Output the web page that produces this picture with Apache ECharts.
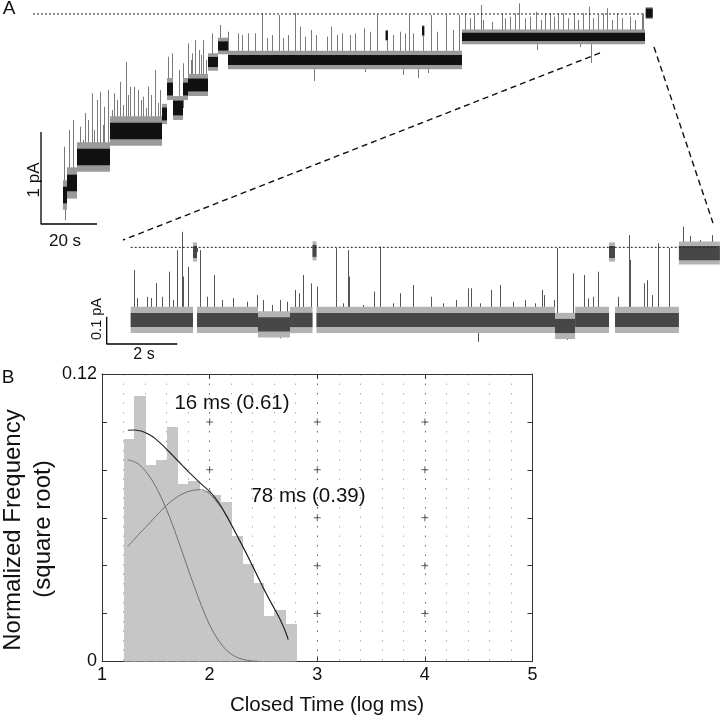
<!DOCTYPE html>
<html><head><meta charset="utf-8">
<script src="https://cdn.jsdelivr.net/npm/echarts@6/dist/echarts.min.js"></script>
<style>html,body{margin:0;padding:0;background:#fff}#c{width:720px;height:717px}</style>
</head><body><div id="c"></div>
<script>
// ================= DATA =================
// Panel A, long record: time (s), current (pA)
// segments: [tStart, tEnd, level, coreNoise, fringeNoise]  (half-widths, pA)
const topSegments = [
  [1.07, 2.5, 0.315, 0.09, 0.16],
  [2.5, 6.07, 0.446, 0.09, 0.17],
  [6.07, 17.86, 0.728, 0.09, 0.16],
  [17.86, 36.43, 1.011, 0.09, 0.16],
  [36.43, 38.21, 1.196, 0.07, 0.11],
  [38.21, 40.36, 1.467, 0.07, 0.12],
  [40.36, 43.93, 1.261, 0.08, 0.13],
  [43.93, 45.71, 1.467, 0.07, 0.12],
  [45.71, 52.86, 1.511, 0.07, 0.12],
  [52.86, 56.43, 1.761, 0.055, 0.095],
  [56.43, 60.0, 1.935, 0.05, 0.09],
  [60.0, 143.57, 1.783, 0.055, 0.10],
  [143.57, 208.93, 2.033, 0.045, 0.08],
  [209.18, 211.68, 2.293, 0.05, 0.065]
];
// brief sub-conductance visits
const topSublevels = [
  [116.3, 117.1, 2.05, 0.05, 0.06],
  [129.3, 130.1, 2.10, 0.05, 0.06]
];
// brief openings / closings: [time, peak current]
const topSpikes = [
  [1.54,0.840],[3.21,1.022],[4.75,1.130],[7.14,1.058],[8.04,0.913],[8.93,1.207],[10.11,1.130],[11.32,1.421],[12.14,1.022],[13.11,1.348],[14.29,1.438],[15.18,1.076],[15.82,1.275],[17.04,1.457],
  [18.57,1.239],[19.39,1.421],[20.36,1.348],[21.43,1.547],[22.5,1.293],[23.46,1.764],[24.29,1.402],[25.0,1.492],[26.54,1.492],[27.96,1.457],[28.93,1.348],[29.75,1.384],[30.71,1.261],[31.54,1.492],[32.5,1.402],[33.93,1.674],[35.0,1.315],[35.71,1.457],
  [38.68,1.818],[40.11,1.855],[42.5,1.674],[43.82,1.747],[45.61,1.964],[46.61,1.783],[47.04,1.855],[48.21,2.0],[49.64,1.891],[50.36,1.837],[51.18,2.0],[52.14,1.783],[54.18,2.073],[57.14,2.163],[60.11,2.090],
  [63.46,2.073],[64.89,2.054],[67.25,2.073],[69.64,2.073],[72.32,2.293],[73.82,2.022],[75.61,2.054],[78.21,2.272],[79.75,2.022],[81.54,2.054],[83.93,2.293],[85.71,2.145],[87.5,2.036],[89.54,2.109],[91.43,2.054],[95.25,2.036],[96.68,2.145],[98.82,2.054],[100.61,2.073],[103.57,2.054],[105.36,2.073],[108.57,2.127],[110.71,2.090],[113.21,2.272],[116.68,2.109],[119.04,2.054],[121.43,2.090],[123.21,2.073],[124.82,2.272],[126.18,2.073],[129.75,2.145],[132.5,2.272],[134.54,2.090],[137.86,2.272],[140.46,2.109],[142.5,2.272],
  [144.64,2.290],[146.43,2.236],[147.86,2.272],[150.25,2.380],[151.18,2.217],[154.18,2.199],[157.75,2.290],[158.93,2.236],[160.71,2.253],[162.5,2.290],[164.04,2.399],[166.07,2.236],[167.86,2.253],[170.0,2.308],[171.68,2.217],[173.21,2.290],[175.0,2.290],[176.43,2.253],[177.96,2.290],[179.75,2.290],[181.54,2.236],[183.57,2.290],[185.11,2.217],[186.89,2.290],[189.04,2.362],[190.46,2.236],[192.25,2.272],[194.04,2.290],[195.25,2.345],[197.04,2.217],[198.82,2.290],[200.61,2.236],[203.57,2.253],[205.36,2.217],[207.75,2.272],[208.32,2.290],
  [1.79,0.043],[90.71,1.554],[108.93,1.652],[122.39,1.620],[127.86,1.587],[131.43,1.641],[170.25,1.891],[185.71,1.924],[189.64,1.750]
];
const topOpenLevel = 2.283;           // pA, dotted reference
const topOpenSpan = [-9.64, 208.93];  // s
const topScaleBar = { t: -6.786, i: 0, dt: 20, di: 1 };   // 20 s, 1 pA
// zoom connector lines [t1, i1, t2, i2] in long-record units
const zoomLinks = [[192.86, 1.859, 22.5, -0.174], [212.14, 1.924, 233.21, 0.011]];

// Panel A, expanded record: time (s), current (pA)
const bottomSegments = [
  [0.02, 1.785, 0.088, 0.026, 0.048],
  [1.785, 1.898, 0.337, 0.022, 0.035],
  [1.898, 3.626, 0.088, 0.026, 0.048],
  [3.626, 4.533, 0.072, 0.026, 0.048],
  [4.533, 5.17, 0.088, 0.026, 0.048],
  [5.17, 5.283, 0.341, 0.022, 0.035],
  [5.283, 12.04, 0.088, 0.026, 0.048],
  [12.04, 12.61, 0.066, 0.026, 0.048],
  [12.61, 13.57, 0.088, 0.026, 0.048],
  [13.57, 13.74, 0.337, 0.022, 0.035],
  [13.74, 15.55, 0.088, 0.026, 0.048],
  [15.55, 16.71, 0.333, 0.026, 0.042]
];
const bottomSpikes = [
  [0.122,0.271],[0.207,0.168],[0.473,0.173],[0.586,0.168],[0.737,0.223],[0.898,0.173],[1.113,0.265],[1.227,0.161],[1.340,0.344],[1.465,0.411],[1.510,0.247],[1.652,0.283],[1.890,0.352],[1.983,0.344],
  [2.173,0.173],[2.380,0.253],[2.598,0.161],[2.926,0.168],[3.306,0.155],[3.589,0.179],[3.776,0.161],[4.014,0.143],[4.249,0.161],[4.439,0.155],[4.674,0.198],[4.796,0.186],[4.909,0.253],[5.119,0.222],[5.212,0.375],[5.289,0.210],
  [5.836,0.351],[5.929,0.137],[6.042,0.149],[6.184,0.344],[6.212,0.247],[6.609,0.143],[6.912,0.192],[7.082,0.357],[7.224,0.131],[7.459,0.149],[7.649,0.186],[8.025,0.216],[8.518,0.173],[8.875,0.149],[9.235,0.161],[9.584,0.204],[9.652,0.204],[9.915,0.149],
  [10.218,0.198],[10.482,0.216],[10.858,0.155],[11.190,0.161],[11.473,0.149],[11.663,0.198],[11.728,0.179],[12.02,0.161],[12.105,0.351],[12.541,0.259],[12.870,0.253],[12.983,0.167],[13.108,0.173],[13.266,0.265],[13.654,0.370],[13.833,0.173],
  [14.127,0.399],[14.164,0.308],[14.561,0.222],[14.654,0.234],[14.779,0.179],[14.966,0.369],[15.278,0.351],[15.561,0.351],[15.657,0.430],[15.86,0.396],[16.15,0.381],[16.49,0.399],
  [4.249,0.021],[9.867,0.008],[12.37,0.015]
];
const bottomOpenLevel = 0.354;
const bottomOpenSpan = [0.02, 16.6];
const bottomScaleBar = { t: -0.66, i: 0, dt: 2, di: 0.1 };  // 2 s, 0.1 pA

// Panel B: closed-time histogram (log10 ms, sqrt normalized frequency)
const binStarts = [1.2,1.3,1.4,1.5,1.6,1.7,1.8,1.9,2.0,2.1,2.2,2.3,2.4,2.5,2.6,2.7];
const binHeights = [0.0928,0.1108,0.0819,0.0843,0.0978,0.0740,0.0752,0.0712,0.0696,0.0664,0.0523,0.0405,0.0328,0.0188,0.0217,0.0156];
const binWidth = 0.1;
const fitX =    [1.24,1.30,1.35,1.40,1.45,1.50,1.55,1.60,1.65,1.70,1.75,1.80,1.85,1.90,1.95,2.00,2.05,2.10,2.15,2.20,2.25,2.30,2.35,2.40,2.45,2.50,2.55,2.60,2.65,2.70,2.73];
const fitTotal =[.0965,.0966,.0963,.0956,.0944,.0928,.0908,.0886,.0863,.0840,.0817,.0794,.0772,.0750,.0730,.0710,.0684,.0652,.0614,.0573,.0530,.0487,.0443,.0398,.0352,.0306,.0263,.0222,.0180,.0130,.0092];
const fitFast = [.0842,.0834,.0820,.0797,.0767,.0730,.0685,.0634,.0577,.0515,.0451,.0386,.0322,.0261,.0204,.0153,.0111,.0077,.0050,.0031,.0018,.0010,.0005,.0002,.0001,null,null,null,null,null,null];
const fitSlow = [.0480,.0510,.0535,.0558,.0582,.0606,.0630,.0652,.0671,.0687,.0700,.0709,.0715,.0717,.0714,.0700,.0675,.0647,.0612,.0572,.0530,.0487,.0443,.0398,.0352,.0306,.0263,.0222,.0180,.0130,.0092];
const xTicks = [1,2,3,4,5];
const yTicks = [0,0.02,0.04,0.06,0.08,0.10,0.12];
const annotations = ['16 ms (0.61)', '78 ms (0.39)'];

// ================= CHART =================
const FONT = '"Liberation Sans", Arial, Helvetica, sans-serif';
const chart = echarts.init(document.getElementById('c'), null, { renderer: 'canvas' });

function levelAt(segs, t) {
  for (const s of segs) if (t >= s[0] && t <= s[1]) return s[2];
  let best = segs[0], bd = Infinity;
  for (const s of segs) { const d = Math.min(Math.abs(t - s[0]), Math.abs(t - s[1])); if (d < bd) { bd = d; best = s; } }
  return best[2];
}
function bandRenderer(core, fringe) {
  return function (params, api) {
    const t0 = api.value(0), t1 = api.value(1), lv = api.value(2), hc = api.value(3), hf = api.value(4);
    const a = api.coord([t0, lv + hf]), b = api.coord([t1, lv - hf]);
    const c = api.coord([t0, lv + hc]), d = api.coord([t1, lv - hc]);
    return { type: 'group', children: [
      { type: 'rect', shape: { x: a[0], y: a[1], width: b[0] - a[0], height: b[1] - a[1] }, style: { fill: fringe } },
      { type: 'rect', shape: { x: c[0], y: c[1], width: d[0] - c[0], height: d[1] - c[1] }, style: { fill: core } }
    ]};
  };
}
function spikeRenderer(segs, color) {
  return function (params, api) {
    const t = api.value(0), pk = api.value(1);
    const base = levelAt(segs, t);
    const p0 = api.coord([t, base]), p1 = api.coord([t, pk]);
    const x = Math.round(p0[0]) + 0.5;
    return { type: 'line', shape: { x1: x, y1: p0[1], x2: x, y2: p1[1] }, style: { stroke: color, lineWidth: 1 } };
  };
}
function seg(x0, y0, x1, y1) { return [[x0, y0], [x1, y1]]; }
function lineSeries(data, xi, yi, style, z) {
  return { type: 'line', xAxisIndex: xi, yAxisIndex: yi, data: data, symbol: 'none', silent: true,
           animation: false, lineStyle: style, z: z || 5 };
}
const hidden = { show: false };
const hiddenAxis = (grid, min, max) => ({ type: 'value', gridIndex: grid, min, max, show: false,
  axisLine: hidden, axisTick: hidden, axisLabel: hidden, splitLine: hidden });

const axisColor = '#333';
const histX = (pos, labels) => ({
  type: 'value', gridIndex: 2, min: 1, max: 5, interval: 1, position: pos,
  axisLine: { show: true, onZero: false, lineStyle: { color: axisColor, width: 1 } },
  axisTick: { show: true, inside: true, length: 5, lineStyle: { color: axisColor } },
  axisLabel: { show: labels, fontFamily: FONT, fontSize: 18, color: '#111', margin: 5 },
  splitLine: { show: labels, lineStyle: { color: '#666', type: [1.5, 8], width: 1 } },
  minorTick: { show: false, splitNumber: 5 },
  minorSplitLine: { show: labels, lineStyle: { color: '#b0b0b0', type: [1.5, 8], width: 1 } }
});
const histY = (pos, labels) => ({
  type: 'value', gridIndex: 2, min: 0, max: 0.12, interval: 0.02, position: pos,
  axisLine: { show: true, onZero: false, lineStyle: { color: axisColor, width: 1 } },
  axisTick: { show: true, inside: true, length: 5, lineStyle: { color: axisColor } },
  axisLabel: { show: labels, fontFamily: FONT, fontSize: 18, color: '#111', margin: 5,
    formatter: v => (Math.abs(v) < 1e-9 ? '0' : (Math.abs(v - 0.12) < 1e-9 ? '0.12' : '')) },
  splitLine: { show: false }
});

const plusPts = [];
xTicks.slice(1, -1).forEach(x => yTicks.slice(1, -1).forEach(y => plusPts.push([x, y])));

const txt = (text, x, y, size, rot) => ({
  type: 'text', x, y, rotation: rot || 0, silent: true,
  style: { text, fontFamily: FONT, fontSize: size, fill: '#111', align: 'center', verticalAlign: 'middle' }
});

const option = {
  animation: false,
  backgroundColor: '#fff',
  grid: [
    { left: 0, top: 0, width: 720, height: 360 },
    { left: 0, top: 220, width: 720, height: 140 },
    { left: 102, top: 374, width: 430.5, height: 287.5 }
  ],
  xAxis: [
    hiddenAxis(0, -21.4286, 235.7143),
    hiddenAxis(1, -3.6827, 16.7139),
    histX('bottom', true),
    histX('top', false)
  ],
  yAxis: [
    hiddenAxis(0, -1.4783, 2.4348),
    hiddenAxis(1, -0.0586, 0.4542),
    histY('left', true),
    histY('right', false)
  ],
  series: [
    // ---- long record ----
    { type: 'custom', xAxisIndex: 0, yAxisIndex: 0, data: topSpikes, z: 2, silent: true,
      renderItem: spikeRenderer(topSegments, '#7a7a7a'), encode: { x: 0, y: 1 } },
    { type: 'custom', xAxisIndex: 0, yAxisIndex: 0, data: topSegments, z: 3, silent: true,
      renderItem: bandRenderer('#111', '#9a9a9a'), encode: { x: [0, 1], y: 2 } },
    { type: 'custom', xAxisIndex: 0, yAxisIndex: 0, data: topSublevels, z: 3, silent: true,
      renderItem: bandRenderer('#111', '#9a9a9a'), encode: { x: [0, 1], y: 2 } },
    lineSeries(seg(topOpenSpan[0], topOpenLevel, topOpenSpan[1], topOpenLevel), 0, 0, { color: '#222', width: 1, type: [2, 2] }),
    lineSeries([[topScaleBar.t, topScaleBar.i + topScaleBar.di], [topScaleBar.t, topScaleBar.i], [topScaleBar.t + topScaleBar.dt, topScaleBar.i]], 0, 0, { color: '#000', width: 1.3 }),
    ...zoomLinks.map(l => lineSeries(seg(l[0], l[1], l[2], l[3]), 0, 0, { color: '#111', width: 1.4, type: [6, 4] })),
    // ---- expanded record ----
    { type: 'custom', xAxisIndex: 1, yAxisIndex: 1, data: bottomSpikes, z: 2, silent: true,
      renderItem: spikeRenderer(bottomSegments, '#555'), encode: { x: 0, y: 1 } },
    { type: 'custom', xAxisIndex: 1, yAxisIndex: 1, data: bottomSegments, z: 3, silent: true,
      renderItem: bandRenderer('#474747', '#b3b3b3'), encode: { x: [0, 1], y: 2 } },
    lineSeries(seg(bottomOpenSpan[0], bottomOpenLevel, bottomOpenSpan[1], bottomOpenLevel), 1, 1, { color: '#222', width: 1, type: [2, 2] }),
    lineSeries([[bottomScaleBar.t, bottomScaleBar.i + bottomScaleBar.di], [bottomScaleBar.t, bottomScaleBar.i], [bottomScaleBar.t + bottomScaleBar.dt, bottomScaleBar.i]], 1, 1, { color: '#000', width: 1.3 }),
    // ---- histogram ----
    { type: 'scatter', xAxisIndex: 2, yAxisIndex: 2, data: plusPts, z: 1, silent: true,
      symbol: 'path://M4.3,0H5.7V4.3H10V5.7H5.7V10H4.3V5.7H0V4.3H4.3Z', symbolSize: 7,
      itemStyle: { color: '#333' } },
    { type: 'custom', xAxisIndex: 2, yAxisIndex: 2, z: 2, silent: true,
      data: binStarts.map((x, i) => [x, binHeights[i]]), encode: { x: 0, y: 1 },
      renderItem: (params, api) => {
        const x0 = api.value(0), h = api.value(1);
        const p0 = api.coord([x0, h]), p1 = api.coord([x0 + binWidth, 0]);
        const l = Math.round(p0[0]), r = Math.round(p1[0]) + 1;
        return { type: 'rect', shape: { x: l, y: Math.round(p0[1]), width: r - l, height: p1[1] - Math.round(p0[1]) },
                 style: { fill: '#c6c6c6' } };
      } },
    { type: 'line', xAxisIndex: 2, yAxisIndex: 2, z: 4, symbol: 'none', smooth: 0.3, silent: true,
      data: fitX.map((x, i) => [x, fitFast[i]]), lineStyle: { color: '#6e6e6e', width: 1 } },
    { type: 'line', xAxisIndex: 2, yAxisIndex: 2, z: 4, symbol: 'none', smooth: 0.3, silent: true,
      data: fitX.map((x, i) => [x, fitSlow[i]]), lineStyle: { color: '#6e6e6e', width: 1 } },
    { type: 'line', xAxisIndex: 2, yAxisIndex: 2, z: 5, symbol: 'none', smooth: 0.3, silent: true,
      data: fitX.map((x, i) => [x, fitTotal[i]]), lineStyle: { color: '#222', width: 1.1 } }
  ],
  graphic: [
    txt('A', 9, 9, 19),
    txt('B', 8, 378, 19),
    txt('1 pA', 34, 180, 17, Math.PI / 2),
    txt('20 s', 65, 241, 17),
    txt('0.1 pA', 97, 319, 14.5, Math.PI / 2),
    txt('2 s', 144, 355, 16),
    txt(annotations[0], 232, 403, 20.5),
    txt(annotations[1], 308, 496, 20.5),
    txt('Closed Time (log ms)', 327, 705, 20.5),
    txt('Normalized Frequency', 13, 530, 24, Math.PI / 2),
    txt('(square root)', 43, 529, 24, Math.PI / 2)
  ]
};
chart.setOption(option);
</script></body></html>
